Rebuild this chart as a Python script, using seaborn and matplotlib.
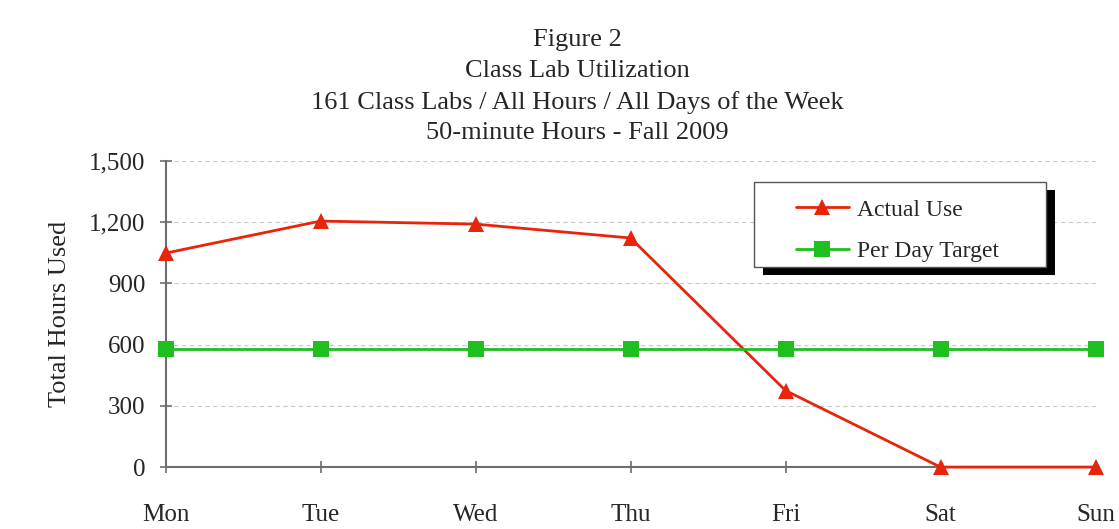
import pandas as pd
import seaborn as sns
import matplotlib.pyplot as plt
from matplotlib.patches import Rectangle
from matplotlib.ticker import StrMethodFormatter

# values
days = ["Mon", "Tue", "Wed", "Thu", "Fri", "Sat", "Sun"]
actual_use = [1048, 1205, 1190, 1122, 375, 0, 0]
per_day_target = [577, 577, 577, 577, 577, 577, 577]
title_lines = ["Figure 2", "Class Lab Utilization",
               "161 Class Labs / All Hours / All Days of the Week",
               "50-minute Hours - Fall 2009"]

df = pd.DataFrame({
    "day": days * 2,
    "pos": list(range(len(days))) * 2,
    "hours": actual_use + per_day_target,
    "series": ["Actual Use"] * len(days) + ["Per Day Target"] * len(days),
})

sns.set_style("white")
plt.rcParams["font.family"] = ["Liberation Serif", "DejaVu Serif"]

fig = plt.figure(figsize=(11.19, 5.29), dpi=100)
ax = fig.add_axes([0.148, 0.117, 0.831, 0.579])

palette = {"Actual Use": "#e8240c", "Per Day Target": "#1fbf1f"}
markers = {"Actual Use": "^", "Per Day Target": "s"}
sns.lineplot(data=df, x="pos", y="hours", hue="series", style="series",
             palette=palette, markers=markers, dashes=False, markersize=11,
             markeredgewidth=0, linewidth=2, ax=ax, clip_on=False, zorder=3)

ax.set_xlim(0, len(days) - 1)
ax.set_ylim(0, 1500)
ax.set_yticks(range(0, 1501, 300))
ax.yaxis.set_major_formatter(StrMethodFormatter("{x:,.0f}"))
ax.set_xticks(range(len(days)))
ax.set_xticklabels(days)
ax.set_xlabel("")
ax.set_ylabel("Total Hours Used", fontsize=19, labelpad=13)

ax.grid(axis="y", color="#c8c8c8", linestyle=(0, (4, 3)), linewidth=0.8)
for s in ["top", "right"]:
    ax.spines[s].set_visible(False)
for s in ["left", "bottom"]:
    ax.spines[s].set_color("#6e6e6e")
    ax.spines[s].set_linewidth(1.5)
ax.tick_params(axis="y", direction="inout", length=9, width=1.2, color="#6e6e6e",
               labelsize=18, pad=10, left=True)
ax.tick_params(axis="x", direction="inout", length=9, width=1.2, color="#6e6e6e",
               labelsize=18, pad=22, bottom=True)

# legend box with a hard black drop shadow
box_x, box_y, box_w, box_h = 0.633, 0.654, 0.314, 0.277
ax.add_patch(Rectangle((box_x + 0.009, box_y - 0.027), box_w, box_h,
                       transform=ax.transAxes, facecolor="black",
                       edgecolor="none", zorder=5, clip_on=False))
ax.add_patch(Rectangle((box_x, box_y), box_w, box_h, transform=ax.transAxes,
                       facecolor="white", edgecolor="#555555", linewidth=1.0,
                       zorder=6, clip_on=False))
leg = ax.legend(loc="upper left", bbox_to_anchor=(0.6775, 0.875), fontsize=17,
                frameon=False, borderpad=0, labelspacing=0.85,
                handlelength=2.25, handletextpad=0.35, borderaxespad=0,
                title=None)
leg.set_zorder(7)

title_y = [0.925, 0.866, 0.807, 0.748]
for line, y in zip(title_lines, title_y):
    fig.text(0.516, y, line, ha="center", va="center", fontsize=19)

fig.savefig("out.png", dpi=100)
